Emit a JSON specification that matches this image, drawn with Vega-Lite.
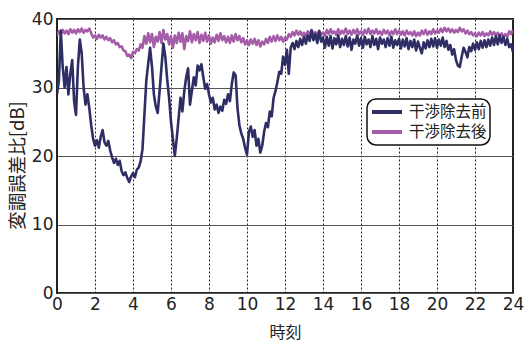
{
"$schema":"https://vega.github.io/schema/vega-lite/v6.json",
"width":456,"height":274,
"autosize":{"type":"none"},
"padding":{"left":57,"top":19,"right":17,"bottom":49},
"background":"white",
"config":{"view":{"stroke":"#222","strokeWidth":2},"font":"DejaVu Sans","legend":{"strokeWidth":1.5}},
"data":{"values":[
{"t":0,"a":29,"b":37.6},{"t":0.1,"a":31,"b":38.2},{"t":0.2,"a":38.3,"b":37.8},{"t":0.3,"a":33,"b":38.4},{"t":0.4,"a":30,"b":37.9},{"t":0.5,"a":33,"b":38.3},{"t":0.6,"a":29,"b":37.8},{"t":0.7,"a":32,"b":38.5},{"t":0.8,"a":34,"b":38.0},{"t":0.9,"a":28,"b":38.4},
{"t":1.0,"a":26,"b":37.9},{"t":1.1,"a":33,"b":38.5},{"t":1.2,"a":37,"b":38.1},{"t":1.3,"a":35,"b":38.6},{"t":1.4,"a":30,"b":38.0},{"t":1.5,"a":27.5,"b":38.4},{"t":1.6,"a":29,"b":38.2},{"t":1.7,"a":27,"b":38.6},{"t":1.8,"a":24.5,"b":37.9},{"t":1.9,"a":22.5,"b":37.3},
{"t":2.0,"a":21.5,"b":37.6},{"t":2.1,"a":22.3,"b":37.1},{"t":2.2,"a":21.2,"b":37.7},{"t":2.3,"a":22.8,"b":37.3},{"t":2.4,"a":23.8,"b":37.6},{"t":2.5,"a":22,"b":37.0},{"t":2.6,"a":21.5,"b":37.4},{"t":2.7,"a":22.2,"b":36.9},{"t":2.8,"a":20.8,"b":37.2},{"t":2.9,"a":19.8,"b":36.6},
{"t":3.0,"a":19,"b":36.9},{"t":3.1,"a":19.6,"b":36.3},{"t":3.2,"a":18.7,"b":36.5},{"t":3.3,"a":19.3,"b":35.9},{"t":3.4,"a":17.8,"b":36.0},{"t":3.5,"a":17.2,"b":35.4},{"t":3.6,"a":17.6,"b":35.3},{"t":3.7,"a":16.8,"b":34.6},{"t":3.8,"a":16.2,"b":34.8},{"t":3.9,"a":17,"b":34.3},
{"t":4.0,"a":17.5,"b":35.2},{"t":4.1,"a":16.9,"b":35.0},{"t":4.2,"a":18,"b":35.6},{"t":4.3,"a":18.3,"b":35.4},{"t":4.4,"a":19.2,"b":36.3},{"t":4.5,"a":21,"b":35.8},{"t":4.6,"a":26,"b":37.5},{"t":4.7,"a":31,"b":36.4},{"t":4.8,"a":33.5,"b":37.9},{"t":4.9,"a":35.8,"b":36.6},
{"t":5.0,"a":33,"b":37.8},{"t":5.1,"a":29,"b":35.9},{"t":5.2,"a":27.2,"b":37.4},{"t":5.3,"a":26.3,"b":36.7},{"t":5.4,"a":29.5,"b":38.1},{"t":5.5,"a":33,"b":36.5},{"t":5.6,"a":36.4,"b":38.4},{"t":5.7,"a":34.5,"b":37.0},{"t":5.8,"a":31.2,"b":37.8},{"t":5.9,"a":28.5,"b":36.3},
{"t":6.0,"a":25,"b":37.5},{"t":6.1,"a":22.5,"b":35.8},{"t":6.2,"a":20,"b":37.6},{"t":6.3,"a":22.5,"b":36.5},{"t":6.4,"a":25.5,"b":38.0},{"t":6.5,"a":28.5,"b":36.7},{"t":6.6,"a":26.5,"b":37.9},{"t":6.7,"a":29.5,"b":35.6},{"t":6.8,"a":31.5,"b":37.5},{"t":6.9,"a":32.8,"b":36.8},
{"t":7.0,"a":27.5,"b":38.2},{"t":7.1,"a":29.5,"b":36.6},{"t":7.2,"a":31.5,"b":37.8},{"t":7.3,"a":30.3,"b":36.9},{"t":7.4,"a":33.2,"b":38.1},{"t":7.5,"a":32.5,"b":36.5},{"t":7.6,"a":33.4,"b":37.7},{"t":7.7,"a":31.5,"b":36.8},{"t":7.8,"a":29.8,"b":38.0},{"t":7.9,"a":30.5,"b":36.7},
{"t":8.0,"a":29,"b":37.6},{"t":8.1,"a":27.8,"b":36.4},{"t":8.2,"a":28.5,"b":37.3},{"t":8.3,"a":26.8,"b":36.6},{"t":8.4,"a":27.5,"b":37.7},{"t":8.5,"a":26.3,"b":36.8},{"t":8.6,"a":27.2,"b":37.9},{"t":8.7,"a":26.6,"b":36.9},{"t":8.8,"a":28.2,"b":37.5},{"t":8.9,"a":27.6,"b":36.6},
{"t":9.0,"a":29,"b":37.4},{"t":9.1,"a":28,"b":36.5},{"t":9.2,"a":30.5,"b":37.6},{"t":9.3,"a":32.2,"b":36.7},{"t":9.4,"a":31.8,"b":37.8},{"t":9.5,"a":27,"b":36.9},{"t":9.6,"a":24.5,"b":37.5},{"t":9.7,"a":23.3,"b":36.6},{"t":9.8,"a":22.5,"b":37.2},{"t":9.9,"a":21.2,"b":36.3},
{"t":10.0,"a":20.2,"b":36.9},{"t":10.1,"a":23.5,"b":36.2},{"t":10.2,"a":24.3,"b":37.0},{"t":10.3,"a":22.8,"b":36.4},{"t":10.4,"a":23.8,"b":37.1},{"t":10.5,"a":21.5,"b":36.2},{"t":10.6,"a":22.5,"b":36.9},{"t":10.7,"a":20.5,"b":36.0},{"t":10.8,"a":21.5,"b":36.7},{"t":10.9,"a":23.5,"b":36.3},
{"t":11.0,"a":24.8,"b":37.1},{"t":11.1,"a":24.2,"b":36.5},{"t":11.2,"a":26.5,"b":37.4},{"t":11.3,"a":25.8,"b":36.7},{"t":11.4,"a":28.5,"b":37.5},{"t":11.5,"a":29.5,"b":36.8},{"t":11.6,"a":30.8,"b":37.6},{"t":11.7,"a":32.3,"b":36.9},{"t":11.8,"a":32,"b":37.4},{"t":11.9,"a":34.5,"b":36.7},
{"t":12.0,"a":33.3,"b":37.3},{"t":12.1,"a":35.5,"b":37.0},{"t":12.2,"a":32,"b":37.8},{"t":12.3,"a":35.8,"b":37.4},{"t":12.4,"a":36.5,"b":38.1},{"t":12.5,"a":35.6,"b":37.6},{"t":12.6,"a":36.8,"b":38.3},{"t":12.7,"a":35.9,"b":37.7},{"t":12.8,"a":37.1,"b":38.2},{"t":12.9,"a":36.2,"b":37.6},
{"t":13.0,"a":37.4,"b":38.0},{"t":13.1,"a":36.4,"b":37.5},{"t":13.2,"a":37.6,"b":38.2},{"t":13.3,"a":36.8,"b":37.7},{"t":13.4,"a":38.3,"b":38.4},{"t":13.5,"a":36.9,"b":37.8},{"t":13.6,"a":37.8,"b":38.1},{"t":13.7,"a":36.5,"b":37.6},{"t":13.8,"a":38.2,"b":38.3},{"t":13.9,"a":36.7,"b":37.7},
{"t":14.0,"a":37.3,"b":38.0},{"t":14.1,"a":35.8,"b":37.6},{"t":14.2,"a":37.4,"b":38.4},{"t":14.3,"a":36.1,"b":37.8},{"t":14.4,"a":37.5,"b":38.5},{"t":14.5,"a":35.7,"b":37.9},{"t":14.6,"a":37.2,"b":38.2},{"t":14.7,"a":36.3,"b":37.7},{"t":14.8,"a":37.6,"b":38.5},{"t":14.9,"a":35.9,"b":37.8},
{"t":15.0,"a":37.1,"b":38.3},{"t":15.1,"a":36.2,"b":37.9},{"t":15.2,"a":37.5,"b":38.6},{"t":15.3,"a":36.0,"b":37.8},{"t":15.4,"a":37.3,"b":38.3},{"t":15.5,"a":35.5,"b":37.7},{"t":15.6,"a":37.0,"b":38.4},{"t":15.7,"a":36.4,"b":37.9},{"t":15.8,"a":37.6,"b":38.5},{"t":15.9,"a":36.1,"b":37.8},
{"t":16.0,"a":37.2,"b":38.2},{"t":16.1,"a":35.8,"b":37.7},{"t":16.2,"a":37.4,"b":38.4},{"t":16.3,"a":36.3,"b":37.9},{"t":16.4,"a":37.0,"b":38.6},{"t":16.5,"a":35.9,"b":37.8},{"t":16.6,"a":37.5,"b":38.3},{"t":16.7,"a":36.2,"b":37.9},{"t":16.8,"a":37.1,"b":38.5},{"t":16.9,"a":35.6,"b":37.8},
{"t":17.0,"a":37.3,"b":38.2},{"t":17.1,"a":36.4,"b":37.7},{"t":17.2,"a":37.0,"b":38.4},{"t":17.3,"a":35.9,"b":37.9},{"t":17.4,"a":37.2,"b":38.3},{"t":17.5,"a":36.1,"b":37.6},{"t":17.6,"a":37.4,"b":38.2},{"t":17.7,"a":35.8,"b":37.8},{"t":17.8,"a":36.9,"b":38.5},{"t":17.9,"a":36.2,"b":37.8},
{"t":18.0,"a":37.1,"b":38.3},{"t":18.1,"a":35.7,"b":37.7},{"t":18.2,"a":37.0,"b":38.2},{"t":18.3,"a":36.0,"b":37.6},{"t":18.4,"a":37.2,"b":38.3},{"t":18.5,"a":35.6,"b":37.8},{"t":18.6,"a":36.8,"b":38.1},{"t":18.7,"a":35.9,"b":37.6},{"t":18.8,"a":37.0,"b":38.2},{"t":18.9,"a":35.4,"b":37.5},
{"t":19.0,"a":36.7,"b":38.0},{"t":19.1,"a":35.8,"b":37.6},{"t":19.2,"a":35.0,"b":38.3},{"t":19.3,"a":36.6,"b":37.8},{"t":19.4,"a":35.7,"b":38.4},{"t":19.5,"a":36.9,"b":37.7},{"t":19.6,"a":35.9,"b":38.2},{"t":19.7,"a":37.1,"b":37.8},{"t":19.8,"a":36.0,"b":38.5},{"t":19.9,"a":37.2,"b":37.9},
{"t":20.0,"a":35.8,"b":38.3},{"t":20.1,"a":37.0,"b":38.0},{"t":20.2,"a":36.1,"b":38.6},{"t":20.3,"a":37.3,"b":38.1},{"t":20.4,"a":35.9,"b":38.7},{"t":20.5,"a":36.8,"b":38.2},{"t":20.6,"a":35.5,"b":38.6},{"t":20.7,"a":36.2,"b":38.1},{"t":20.8,"a":34.8,"b":38.5},{"t":20.9,"a":35.6,"b":38.0},
{"t":21.0,"a":34.0,"b":38.4},{"t":21.1,"a":33.2,"b":38.1},{"t":21.2,"a":33.0,"b":38.7},{"t":21.3,"a":34.5,"b":38.2},{"t":21.4,"a":35.8,"b":38.5},{"t":21.5,"a":35.2,"b":37.9},{"t":21.6,"a":34.4,"b":38.3},{"t":21.7,"a":35.9,"b":37.8},{"t":21.8,"a":35.3,"b":38.1},{"t":21.9,"a":36.4,"b":37.6},
{"t":22.0,"a":35.5,"b":37.9},{"t":22.1,"a":36.6,"b":37.5},{"t":22.2,"a":35.6,"b":38.0},{"t":22.3,"a":36.8,"b":37.6},{"t":22.4,"a":35.8,"b":38.1},{"t":22.5,"a":36.9,"b":37.5},{"t":22.6,"a":35.9,"b":37.9},{"t":22.7,"a":37.0,"b":37.6},{"t":22.8,"a":36.1,"b":38.2},{"t":22.9,"a":37.3,"b":37.7},
{"t":23.0,"a":36.2,"b":38.1},{"t":23.1,"a":37.5,"b":37.6},{"t":23.2,"a":36.3,"b":38.0},{"t":23.3,"a":37.6,"b":37.5},{"t":23.4,"a":36.5,"b":37.9},{"t":23.5,"a":37.4,"b":37.3},{"t":23.6,"a":36.2,"b":37.8},{"t":23.7,"a":37.1,"b":37.4},{"t":23.8,"a":35.9,"b":38.2},{"t":23.9,"a":36.3,"b":37.8},
{"t":24.0,"a":35.2,"b":38.4}
]},
"transform":[{"fold":["b","a"],"as":["k","v"]}],
"mark":{"type":"line","strokeWidth":2.6,"clip":true,"strokeJoin":"round"},
"encoding":{
"x":{"field":"t","type":"quantitative","scale":{"domain":[0,24],"nice":false},
 "axis":{"title":"時刻","values":[0,2,4,6,8,10,12,14,16,18,20,22,24],"grid":true,"gridDash":[2,2],"gridColor":"#222","gridWidth":1,"domain":false,"ticks":false,"tickSize":0,"labelFontSize":17,"labelFont":"DejaVu Sans","labelColor":"#222","labelPadding":3,"labelFlush":false,"titleFont":"Noto Sans CJK JP","titleFontSize":16,"titleFontWeight":"normal","titleColor":"#222","titlePadding":12}},
"y":{"field":"v","type":"quantitative","scale":{"domain":[0,40],"nice":false},
 "axis":{"title":"変調誤差比[dB]","values":[0,10,20,30,40],"grid":true,"gridColor":"#555","gridWidth":1,"domain":false,"ticks":false,"tickSize":0,"labelFontSize":17,"labelFont":"DejaVu Sans","labelColor":"#222","labelPadding":4,"labelFlush":false,"titleFont":"Noto Sans CJK JP","titleFontSize":18.5,"titleFontWeight":"normal","titleColor":"#222","titlePadding":4,"titleY":146}},
"color":{"field":"k","type":"nominal","scale":{"domain":["a","b"],"range":["#2e2e64","#a55ca9"]},
 "legend":{"title":null,"orient":"none","legendX":310,"legendY":80,"labelExpr":"datum.value=='a'?'干渉除去前':'干渉除去後'","labelFont":"Noto Sans CJK JP","labelFontSize":15.5,"labelColor":"#222","symbolType":"stroke","symbolSize":900,"symbolStrokeWidth":4,"strokeColor":"#111","cornerRadius":9,"padding":3,"fillColor":"white","rowPadding":0,"clipHeight":20,"labelOffset":5}}
}
}
